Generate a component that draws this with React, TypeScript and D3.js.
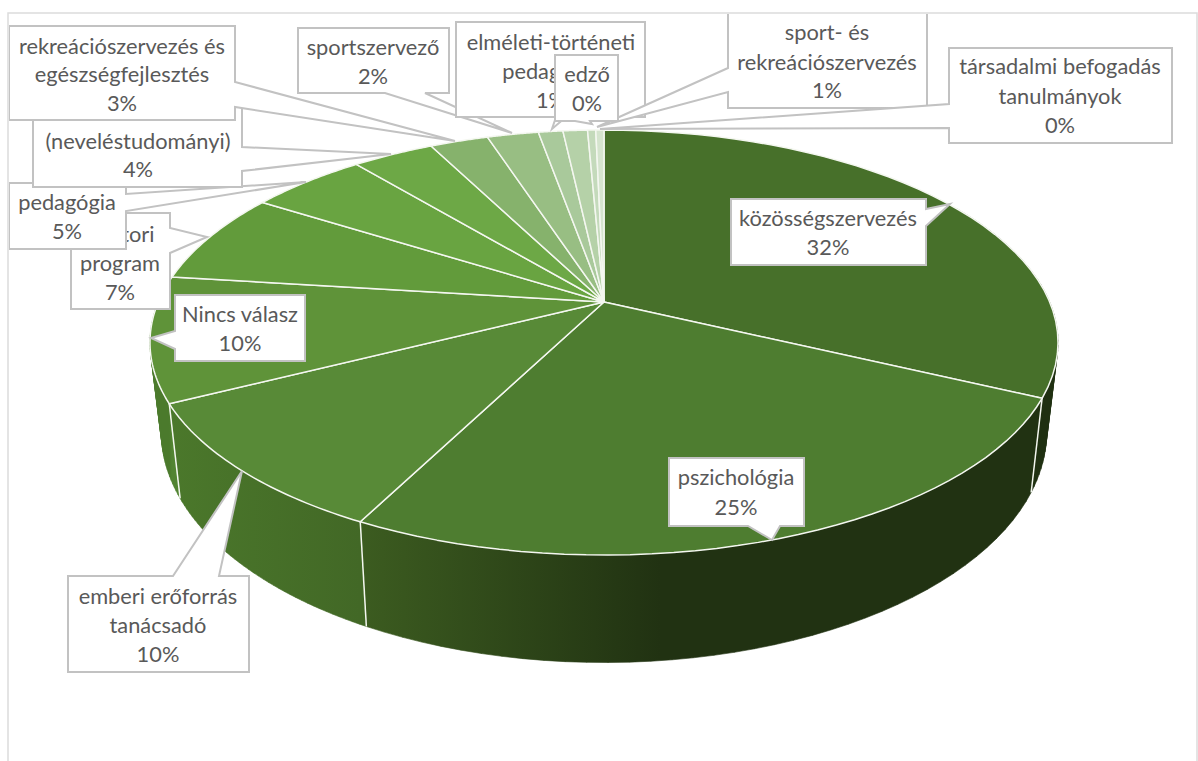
import React from 'react';
import * as d3 from 'd3';

// slice order is clockwise from 12 o'clock
const labels = [
    ['közösségszervezés'],
    ['pszichológia'],
    ['emberi erőforrás', 'tanácsadó'],
    ['Nincs válasz'],
    ['doktori', 'program'],
    ['pedagógia'],
    ['(neveléstudományi)'],
    ['rekreációszervezés és', 'egészségfejlesztés'],
    ['sportszervező'],
    ['elméleti-történeti', 'pedagógia'],
    ['sport- és', 'rekreációszervezés'],
    ['edző'],
    ['társadalmi befogadás', 'tanulmányok'],
];
const values = [32.1, 25.4, 10, 9.5, 7, 5, 3.5, 2.5, 2.2, 1.05, 1.05, 0.35, 0.35];
const topColors = ['#47702a', '#4e7d30', '#588a37', '#5f9339', '#629b3b', '#69a441', '#6da846', '#86b26c', '#98be83', '#a9c99b', '#b5d1a8', '#c4dabb', '#d5e4ce'];
const wallStops = [
    ['#1f3011', '#1f3011'],
    ['#3c5c20', '#213212'],
    ['#4b782b', '#426826'],
    ['#528432', '#4b7a2c'],
];

const W = 1198;
const H = 761;
const hubX = 604;
const hubY = 302;
const rx = 445.7;
const ry = 204.8;
const persp = 0.1906;
// the side wall only shows on the front of the disc
const wallFrom = Math.PI / 3;
const wallTo = (Math.PI * 5) / 3;

// callout boxes: [x0, y0, x1, y1], wedge base on one side, tip
type Callout = { i: number; box: number[]; side: 'l' | 'r' | 't' | 'b'; base: number[]; tip: number[]; cx: number; ys: number[] };
const callouts: Callout[] = [
    { i: 0, box: [731, 199, 926, 265], side: 'r', base: [209, 226], tip: [950, 204], cx: 828, ys: [218, 247] },
    { i: 1, box: [669, 458, 804, 526], side: 'b', base: [748, 780], tip: [772, 540], cx: 736, ys: [477, 507] },
    { i: 2, box: [68, 576, 249, 672], side: 't', base: [173, 219], tip: [242, 471], cx: 158, ys: [596, 625, 654] },
    { i: 3, box: [175, 295, 305, 361], side: 'l', base: [331, 349], tip: [151, 338], cx: 240, ys: [314, 343] },
    { i: 4, box: [71, 213, 170, 309], side: 'r', base: [228, 253], tip: [207, 237], cx: 120, ys: [234, 263, 292] },
    { i: 5, box: [9, 183, 126, 249], side: 'r', base: [194, 211], tip: [306, 182], cx: 67, ys: [202, 231] },
    { i: 6, box: [33, 92, 242, 187], side: 'r', base: [147, 171], tip: [391, 154], cx: 138, ys: [141, 169] },
    { i: 7, box: [9, 26, 235, 120], side: 'r', base: [82, 107], tip: [455, 141], cx: 122, ys: [46, 74, 103] },
    { i: 8, box: [298, 28, 449, 93], side: 'b', base: [385, 425], tip: [512, 133], cx: 373, ys: [47, 76] },
    { i: 9, box: [456, 22, 645, 117], side: 'b', base: [556, 566], tip: [552, 129], cx: 551, ys: [42, 71, 100] },
    { i: 10, box: [728, 5, 927, 108], side: 'l', base: [68, 92], tip: [597, 127], cx: 827, ys: [32, 62, 90] },
    { i: 11, box: [555, 55, 618, 121], side: 'b', base: [575, 590], tip: [592, 124], cx: 587, ys: [74, 103] },
    { i: 12, box: [949, 48, 1172, 143], side: 'l', base: [104, 128], tip: [600, 129], cx: 1060, ys: [66, 96, 125] },
];

const pie = d3.pie<number>().sort(null).value((d) => d);
const arcs = pie(values);

// perspective projection of the disc, angle clockwise from 12 o'clock
const project = (a: number): [number, number] => {
    const u = Math.sin(a);
    const v = Math.cos(a);
    const w = 1 + persp * v;
    return [hubX + (rx * u) / w, hubY - (ry * v) / w];
};
const lower = ([x, y]: [number, number]): [number, number] => [
    hubX + 0.975 * (x - hubX),
    hubY + 86 + 1.085 * (y - hubY),
];

const line = d3.line();
const arcPoints = (a0: number, a1: number) =>
    d3.range(0, 41).map((k) => project(a0 + ((a1 - a0) * k) / 40));

const topPath = (a0: number, a1: number) =>
    line([[hubX, hubY], ...arcPoints(a0, a1)]) + 'Z';

// wall as a union of quads, all wound the same way so nonzero fill keeps them all
const wallPath = (a0: number, a1: number) => {
    const pts = arcPoints(Math.max(a0, wallFrom), Math.min(a1, wallTo));
    return d3.pairs(pts).map(([p, q]) => {
        const quad: [number, number][] = [p, q, lower(q), lower(p)];
        if (d3.polygonArea(quad) < 0) quad.reverse();
        return line(quad) + 'Z';
    }).join('');
};

const calloutPath = ({ box: [x0, y0, x1, y1], side, base: [b0, b1], tip }: Callout) => {
    const t = tip as [number, number];
    const pts: [number, number][] = [[x0, y0]];
    if (side === 't') pts.push([b0, y0], t, [b1, y0]);
    pts.push([x1, y0]);
    if (side === 'r') pts.push([x1, b0], t, [x1, b1]);
    pts.push([x1, y1]);
    if (side === 'b') pts.push([b1, y1], t, [b0, y1]);
    pts.push([x0, y1]);
    if (side === 'l') pts.push([x0, b1], t, [x0, b0]);
    return line(pts) + 'Z';
};

const App: React.FC = () => {
    const walls = arcs.map((d, i) => ({ d, i })).filter(({ i }) => i < wallStops.length);
    return (
        <svg width={W} height={H} style={{ position: 'absolute', left: 0, top: 0, background: '#fff' }}>
            <defs>
                {walls.map(({ d, i }) => {
                    const [xa] = project(d.startAngle);
                    const [xb] = project(d.endAngle);
                    return (
                        <linearGradient key={i} id={`wall${i}`} gradientUnits="userSpaceOnUse" x1={xb} x2={i === 1 ? xb + 300 : xa} y1={0} y2={0}>
                            <stop offset="0" stopColor={wallStops[i][0]} />
                            <stop offset="1" stopColor={wallStops[i][1]} />
                        </linearGradient>
                    );
                })}
                <clipPath id="plot">
                    <rect x={9} y={14} width={1188} height={747} />
                </clipPath>
            </defs>
            <path d="M8,761V13H1197V761" fill="none" stroke="#dcdcdc" strokeWidth={1.5} />
            {walls.map(({ d, i }) => (
                <path key={i} d={wallPath(d.startAngle, d.endAngle)} fill={`url(#wall${i})`} stroke={`url(#wall${i})`} strokeWidth={0.6} />
            ))}
            {walls.slice(0, -1).map(({ d, i }) => (
                <path key={i} d={line([project(d.endAngle), lower(project(d.endAngle))]) as string} stroke="#f4f7f0" strokeWidth={1.5} />
            ))}
            <g stroke="#f4f7f0" strokeWidth={1.5} strokeLinejoin="round">
                {arcs.map((d, i) => (
                    <path key={i} d={topPath(d.startAngle, d.endAngle)} fill={topColors[i]} />
                ))}
            </g>
            <g clipPath="url(#plot)" fontFamily="Lato" fontSize={21.8} fill="#595959" textAnchor="middle">
                {callouts.map((c) => {
                    const lines = [...labels[c.i], `${Math.round(values[c.i])}%`];
                    return (
                        <g key={c.i}>
                            <path d={calloutPath(c)} fill="#fff" stroke="#c2c2c2" strokeWidth={2} strokeLinejoin="miter" />
                            {lines.map((t, k) => (
                                <text key={k} x={c.cx} y={c.ys[k]} dy="0.35em">{t}</text>
                            ))}
                        </g>
                    );
                })}
            </g>
        </svg>
    );
};

export default App;
